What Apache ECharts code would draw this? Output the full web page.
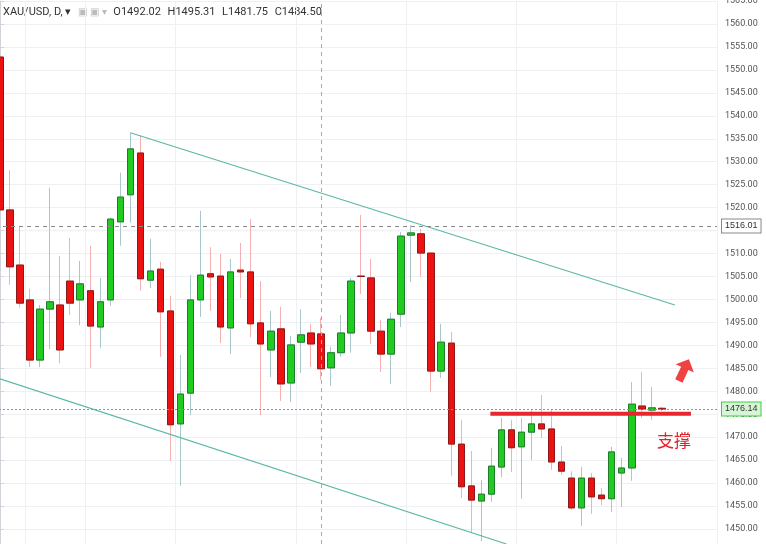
<!DOCTYPE html>
<html>
<head>
<meta charset="utf-8">
<script src="https://cdn.jsdelivr.net/npm/echarts@6/dist/echarts.min.js"></script>
<style>html,body{margin:0;padding:0;background:#fff}#chart{width:766px;height:544px}</style>
</head>
<body>
<div id="chart"></div>
<script>
// XAU/USD daily candles
var opens  = [1552.8,1519.5,1507.5,1499.9,1486.8,1497.9,1498.8,1504.0,1499.9,1501.9,1494.0,1499.9,1516.9,1522.8,1531.9,1504.2,1506.6,1497.5,1472.9,1479.6,1499.9,1505.6,1505.1,1493.8,1506.4,1506.0,1494.9,1489.0,1493.6,1481.8,1490.7,1492.7,1492.5,1485.1,1488.4,1492.7,1505.1,1504.7,1493.1,1488.1,1496.8,1514.0,1514.3,1510.1,1484.4,1490.5,1468.5,1459.4,1456.1,1457.6,1463.5,1471.6,1467.9,1471.1,1472.9,1471.8,1464.6,1461.1,1454.6,1461.1,1457.4,1456.6,1462.2,1463.3,1476.8,1475.9,1476.3];
var closes = [1519.5,1507.1,1499.2,1486.8,1497.9,1499.5,1489.0,1499.2,1503.4,1494.2,1499.5,1517.5,1522.3,1532.8,1504.5,1506.2,1497.3,1472.7,1479.4,1499.9,1505.3,1504.9,1494.0,1506.0,1506.0,1494.7,1490.3,1493.1,1481.6,1490.1,1492.3,1490.3,1484.9,1488.4,1492.7,1504.0,1505.0,1493.1,1488.1,1495.7,1513.8,1514.5,1510.1,1484.4,1490.7,1468.5,1459.2,1456.3,1457.6,1463.7,1471.6,1467.7,1471.1,1472.9,1471.8,1464.6,1462.6,1454.6,1461.1,1457.0,1456.6,1466.8,1463.3,1477.2,1476.1,1476.4,1476.1];
var lows   = [1518.4,1503.2,1498.2,1485.3,1485.3,1489.2,1486.1,1496.6,1494.4,1485.1,1489.4,1498.6,1511.7,1516.7,1501.9,1502.5,1487.5,1464.8,1459.4,1474.8,1496.2,1497.5,1490.5,1488.1,1500.3,1491.8,1474.8,1483.1,1477.9,1477.7,1484.0,1485.3,1482.5,1481.2,1487.5,1488.4,1501.2,1490.3,1484.2,1481.6,1494.0,1503.8,1504.9,1479.9,1482.9,1461.6,1456.8,1449.1,1447.4,1455.9,1461.3,1462.4,1456.6,1465.0,1469.8,1462.9,1461.8,1454.2,1450.7,1453.3,1455.2,1453.7,1454.8,1460.5,1474.2,1473.8,1475.7];
var highs  = [1553.5,1528.2,1515.8,1502.3,1498.8,1524.3,1509.5,1513.4,1508.4,1511.7,1504.7,1517.8,1527.6,1536.3,1535.8,1513.2,1508.2,1500.8,1487.9,1505.3,1519.3,1511.4,1509.9,1508.8,1512.3,1517.5,1504.0,1497.5,1498.4,1492.0,1497.9,1494.7,1496.0,1489.7,1496.6,1504.7,1518.4,1508.8,1495.5,1497.1,1514.7,1516.2,1515.4,1510.3,1494.7,1492.9,1473.8,1467.0,1460.7,1467.7,1474.2,1473.8,1474.2,1475.9,1479.2,1475.9,1468.1,1462.6,1463.5,1462.2,1458.9,1467.9,1465.5,1482.0,1484.2,1480.9,1476.6];
var emptySlots = 5;

// channel and support lines: [index, price]
var upperChannel = [[13, 1536.3], [67.3, 1498.8]];
var lowerChannel = [[0, 1482.7], [50.5, 1446.75]];
var supportLine = [[48.9, 1475.1], [68.9, 1475.1]];
var arrowPoint = [68.2, 1484.6];
var lastPrice = 1476.14;
var crossPrice = 1516.01;
var crossIndex = 32;
var headerValues = ['1492.02', '1495.31', '1481.75', '1484.50'];

var total = opens.length + emptySlots;
var cats = [];
for (var i = 0; i < total; i++) cats.push(String(i));

var wickData = [], bodyData = [];
for (var i = 0; i < opens.length; i++) {
    wickData.push([opens[i], closes[i], lows[i], highs[i]]);
    bodyData.push([opens[i], closes[i], Math.min(opens[i], closes[i]), Math.max(opens[i], closes[i])]);
}

var chart = echarts.init(document.getElementById('chart'));
var lineStyleTeal = {color: '#5bb8a6', width: 1.2};

var option = {
    animation: false,
    grid: {left: -5, width: 722, top: 1, height: 551, outerBoundsMode: 'none', containLabel: false},
    xAxis: [{
        type: 'category', data: cats, boundaryGap: true,
        axisLine: {show: false}, axisTick: {show: false}, axisLabel: {show: false},
        splitLine: {show: true, lineStyle: {color: '#eef0f3'},
            interval: function (idx) { return [3, 9, 18, 30, 41, 52, 62].indexOf(idx) >= 0; }}
    }, {
        type: 'value', min: -0.5, max: total - 0.5, show: false
    }],
    yAxis: {
        type: 'value', position: 'right', min: 1445, max: 1565, interval: 5,
        axisLine: {show: true, lineStyle: {color: '#d0d4d8'}},
        axisTick: {show: true, length: 4, lineStyle: {color: '#d0d4d8'}},
        axisLabel: {color: '#555', fontSize: 9, fontFamily: 'Roboto', margin: 8,
            formatter: function (v) { return v.toFixed(2); }},
        splitLine: {lineStyle: {color: '#eef0f3'}}
    },
    series: [{
        type: 'candlestick', data: wickData, barWidth: 7,
        itemStyle: {color: '#1fcc1f', color0: '#ee1111', borderColor: '#a9c8cc', borderColor0: '#f4b0b0'},
        markLine: {
            symbol: 'none', silent: true,
            data: [
                {yAxis: crossPrice, lineStyle: {color: '#888', type: [4, 4], width: 1},
                    label: {position: 'end', formatter: crossPrice.toFixed(2), color: '#333', fontSize: 9,
                        backgroundColor: '#fff', borderColor: '#888', borderWidth: 1, padding: [2, 3]}},
                {yAxis: lastPrice, lineStyle: {color: '#3fd03f', type: [2, 2], width: 1},
                    label: {position: 'end', formatter: lastPrice.toFixed(2), color: '#333', fontSize: 9,
                        backgroundColor: '#d6f5d6', borderColor: '#3fd03f', borderWidth: 1, padding: [2, 3]}},
                {xAxis: crossIndex, lineStyle: {color: '#aaa', type: [4, 4], width: 1}, label: {show: false}}
            ]
        }
    }, {
        type: 'candlestick', data: bodyData, barWidth: 7,
        itemStyle: {color: '#1fcc1f', color0: '#ee1111', borderColor: '#1f7a2a', borderColor0: '#8a1a1a', borderWidth: 1}
    }, {
        type: 'line', xAxisIndex: 1, data: upperChannel, symbol: 'none', lineStyle: lineStyleTeal
    }, {
        type: 'line', xAxisIndex: 1, data: lowerChannel, symbol: 'none', lineStyle: lineStyleTeal
    }, {
        type: 'line', xAxisIndex: 1, data: supportLine, symbol: 'none', lineStyle: {color: '#e8262e', width: 4}
    }, {
        type: 'scatter', xAxisIndex: 1, data: [arrowPoint],
        symbol: 'path://M5,0 L10,5 L7,5 L7,12 L3,12 L3,5 L0,5 Z', symbolSize: [20, 24], symbolRotate: -25,
        itemStyle: {color: '#ee1111'}
    }],
    graphic: [{
        type: 'rect', left: 0, top: 0, shape: {width: 340, height: 22}, style: {fill: 'rgba(255,255,255,0.85)'}
    }, {
        type: 'text', left: 3, top: 6,
        style: {
            text: '{a|XAU/USD, D, ▾}  {i|▣ ▣ ▾}  {a|O}{b|' + headerValues[0] + '}  {a|H}{b|' + headerValues[1] +
                '}  {a|L}{b|' + headerValues[2] + '}  {a|C}{b|' + headerValues[3] + '}',
            rich: {
                a: {fontSize: 11, fill: '#333', fontFamily: 'Roboto'},
                b: {fontSize: 11, fill: '#333', fontFamily: 'Roboto'},
                i: {fontSize: 10, fill: '#bbb'}
            }
        }
    }, {
        type: 'text', left: 657, top: 432,
        style: {text: '支撑', fontSize: 17, fill: '#e0202a', fontFamily: 'Noto Sans CJK SC'}
    }]
};

chart.setOption(option);
</script>
</body>
</html>
